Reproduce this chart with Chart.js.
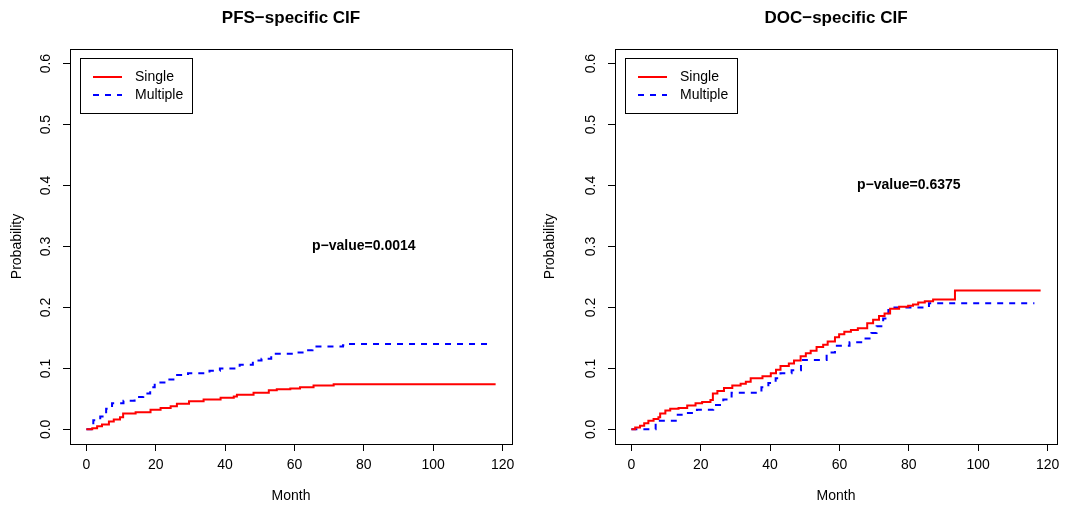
<!DOCTYPE html>
<html>
<head>
<meta charset="utf-8">
<script src="https://cdn.jsdelivr.net/npm/chart.js@4.4.1/dist/chart.umd.min.js"></script>
<style>
  html, body { margin: 0; padding: 0; background: #fff; }
  canvas { position: absolute; top: 0; }
</style>
</head>
<body>
<canvas id="pfs-graph" width="533" height="509" style="left:0px"></canvas>
<canvas id="doc-graph" width="534" height="509" style="left:533px"></canvas>
<script>
// tick labels
const xTicks = [0, 20, 40, 60, 80, 100, 120];
const yTicks = [0, 0.1, 0.2, 0.3, 0.4, 0.5, 0.6];
const groups = ['Single', 'Multiple'];

// PFS-specific CIF (step points: month, probability)
const pfsSingleMonth = [0, 1.7, 3.1, 4.5, 6.5, 7.9, 9.7, 10.6, 14.2, 18.5, 21.4, 24.3, 26.1, 29.6, 33.8, 38.7, 42.5, 43.4, 48.2, 52.6, 54.9, 58.8, 61.6, 65.5, 71.3, 118];
const pfsSingleProb = [0, 0.002, 0.005, 0.008, 0.013, 0.016, 0.020, 0.026, 0.028, 0.032, 0.035, 0.038, 0.042, 0.046, 0.049, 0.052, 0.054, 0.057, 0.060, 0.064, 0.066, 0.067, 0.069, 0.072, 0.074, 0.074];
const pfsMultipleMonth = [0, 2, 4, 5.7, 7.4, 10.7, 13.9, 16.4, 18.4, 19.7, 23.6, 25.4, 29.3, 35.5, 38.5, 44.2, 48, 50.5, 53.3, 60, 63.4, 65.2, 74, 75.4, 116.6];
const pfsMultipleProb = [0, 0.015, 0.021, 0.034, 0.043, 0.047, 0.053, 0.059, 0.069, 0.077, 0.082, 0.089, 0.092, 0.096, 0.100, 0.106, 0.113, 0.116, 0.124, 0.126, 0.130, 0.136, 0.138, 0.140, 0.140];

// DOC-specific CIF
const docSingleMonth = [0, 1.1, 2.5, 3.7, 4.9, 6.4, 7.8, 8.3, 9.8, 11.2, 13.6, 16.1, 18.5, 20.4, 22.8, 23.5, 24.8, 26.7, 29.1, 31.5, 33, 34.4, 37.8, 40.2, 41.7, 43, 45.4, 46.9, 48.8, 50.3, 51.7, 53.4, 55.3, 56.6, 58.7, 59.9, 61.4, 63.3, 65.3, 68, 69.7, 71.4, 73, 74.6, 77.2, 79.8, 81.2, 82.7, 84.6, 87, 93.3, 118];
const docSingleProb = [0, 0.003, 0.006, 0.010, 0.014, 0.017, 0.020, 0.026, 0.031, 0.034, 0.035, 0.039, 0.043, 0.045, 0.048, 0.059, 0.063, 0.068, 0.072, 0.075, 0.078, 0.084, 0.087, 0.092, 0.098, 0.104, 0.108, 0.113, 0.120, 0.125, 0.129, 0.135, 0.139, 0.144, 0.151, 0.156, 0.160, 0.163, 0.166, 0.174, 0.180, 0.186, 0.190, 0.198, 0.201, 0.203, 0.205, 0.208, 0.210, 0.213, 0.228, 0.228];
const docMultipleMonth = [0, 7, 12.8, 14.5, 18.9, 23.6, 26.5, 28.9, 37.5, 39.5, 41.6, 43, 46.2, 48.9, 56.3, 58.7, 62.9, 66.7, 69.2, 70.7, 72.6, 74.1, 75, 85.8, 116.2];
const docMultipleProb = [0, 0.014, 0.024, 0.027, 0.032, 0.040, 0.049, 0.060, 0.069, 0.076, 0.084, 0.092, 0.097, 0.114, 0.126, 0.137, 0.143, 0.149, 0.158, 0.169, 0.182, 0.196, 0.200, 0.207, 0.207];

const FONT = '"Liberation Sans", Arial, Helvetica, sans-serif';

function toPoints(months, probs) {
    return months.map((m, i) => ({ x: m, y: probs[i] }));
}

function makeData(singleM, singleP, multiM, multiP) {
    return {
        datasets: [{
            label: groups[0],
            data: toPoints(singleM, singleP),
            borderColor: '#ff0000',
            borderWidth: 2,
            stepped: 'before',
            pointRadius: 0
        }, {
            label: groups[1],
            data: toPoints(multiM, multiP),
            borderColor: '#0000ff',
            borderWidth: 2,
            borderDash: [6, 6],
            stepped: 'before',
            pointRadius: 0
        }]
    };
}

// box, rotated y labels, main title, legend and p-value text (R look)
const rPlot = {
    id: 'rPlot',
    afterDraw(chart, args, opts) {
        const ctx = chart.ctx;
        const a = chart.chartArea;
        const xs = chart.scales.x, ys = chart.scales.y;
        ctx.save();
        ctx.strokeStyle = '#000';
        ctx.lineWidth = 1;
        ctx.strokeRect(Math.round(a.left) + 0.5, Math.round(a.top) + 0.5,
            Math.round(a.right - a.left), Math.round(a.bottom - a.top));

        ctx.fillStyle = '#000';
        ctx.textAlign = 'center';
        ctx.textBaseline = 'middle';
        ctx.font = '14px ' + FONT;
        yTicks.forEach(v => {
            ctx.save();
            ctx.translate(a.left - 24, ys.getPixelForValue(v));
            ctx.rotate(-Math.PI / 2);
            ctx.fillText(v.toFixed(1), 0, 0);
            ctx.restore();
        });

        ctx.font = 'bold 17px ' + FONT;
        ctx.fillText(opts.title, (a.left + a.right) / 2, 18);

        ctx.font = 'bold 14px ' + FONT;
        ctx.fillText(opts.pText, xs.getPixelForValue(opts.pX), ys.getPixelForValue(opts.pY));

        // legend
        const lx = a.left + 10, ly = a.top + 9;
        ctx.strokeRect(Math.round(lx) + 0.5, Math.round(ly) + 0.5, 112, 55);
        ctx.font = '14px ' + FONT;
        ctx.textAlign = 'left';
        chart.data.datasets.forEach((ds, i) => {
            const yy = ly + 19 + i * 18;
            ctx.strokeStyle = ds.borderColor;
            ctx.lineWidth = 2;
            ctx.setLineDash(ds.borderDash || []);
            ctx.beginPath();
            ctx.moveTo(lx + 13, yy);
            ctx.lineTo(lx + 42, yy);
            ctx.stroke();
            ctx.setLineDash([]);
            ctx.fillText(ds.label, lx + 55, yy);
        });
        ctx.restore();
    }
};

function getOptions(xMax, title, pText, pX, pY, yWidth, rightPad) {
    const xExt = xMax * 0.04;
    return {
        responsive: false,
        animation: false,
        layout: { padding: { left: 0, right: rightPad, top: 49, bottom: 0 } },
        plugins: {
            legend: { display: false },
            tooltip: { enabled: false },
            rPlot: { title: title, pText: pText, pX: pX, pY: pY }
        },
        scales: {
            x: {
                type: 'linear',
                min: -xExt,
                max: xMax + xExt,
                afterBuildTicks: s => { s.ticks = xTicks.map(v => ({ value: v })); },
                afterFit: s => { s.height = 65; },
                grid: { drawOnChartArea: false, drawTicks: true, tickLength: 7, color: '#000' },
                border: { display: false },
                ticks: { color: '#000', font: { family: FONT, size: 14 }, padding: 6, maxRotation: 0 },
                title: { display: true, text: 'Month', color: '#000', font: { family: FONT, size: 14 }, padding: { top: 0, bottom: 4 } }
            },
            y: {
                type: 'linear',
                min: -0.024,
                max: 0.624,
                afterBuildTicks: s => { s.ticks = yTicks.map(v => ({ value: v })); },
                afterFit: s => { s.width = yWidth; },
                grid: { drawOnChartArea: false, drawTicks: true, tickLength: 7, color: '#000' },
                border: { display: false },
                ticks: { display: false },
                title: { display: true, text: 'Probability', color: '#000', font: { family: FONT, size: 14 }, padding: { top: 9, bottom: 0 } }
            }
        }
    };
}

new Chart('pfs-graph', {
    type: 'line',
    data: makeData(pfsSingleMonth, pfsSingleProb, pfsMultipleMonth, pfsMultipleProb),
    options: getOptions(118, 'PFS\u2212specific CIF', 'p\u2212value=0.0014', 80, 0.3, 70, 21),
    plugins: [rPlot]
});

new Chart('doc-graph', {
    type: 'line',
    data: makeData(docSingleMonth, docSingleProb, docMultipleMonth, docMultipleProb),
    options: getOptions(118, 'DOC\u2212specific CIF', 'p\u2212value=0.6375', 80, 0.4, 82, 10),
    plugins: [rPlot]
});
</script>
</body>
</html>
